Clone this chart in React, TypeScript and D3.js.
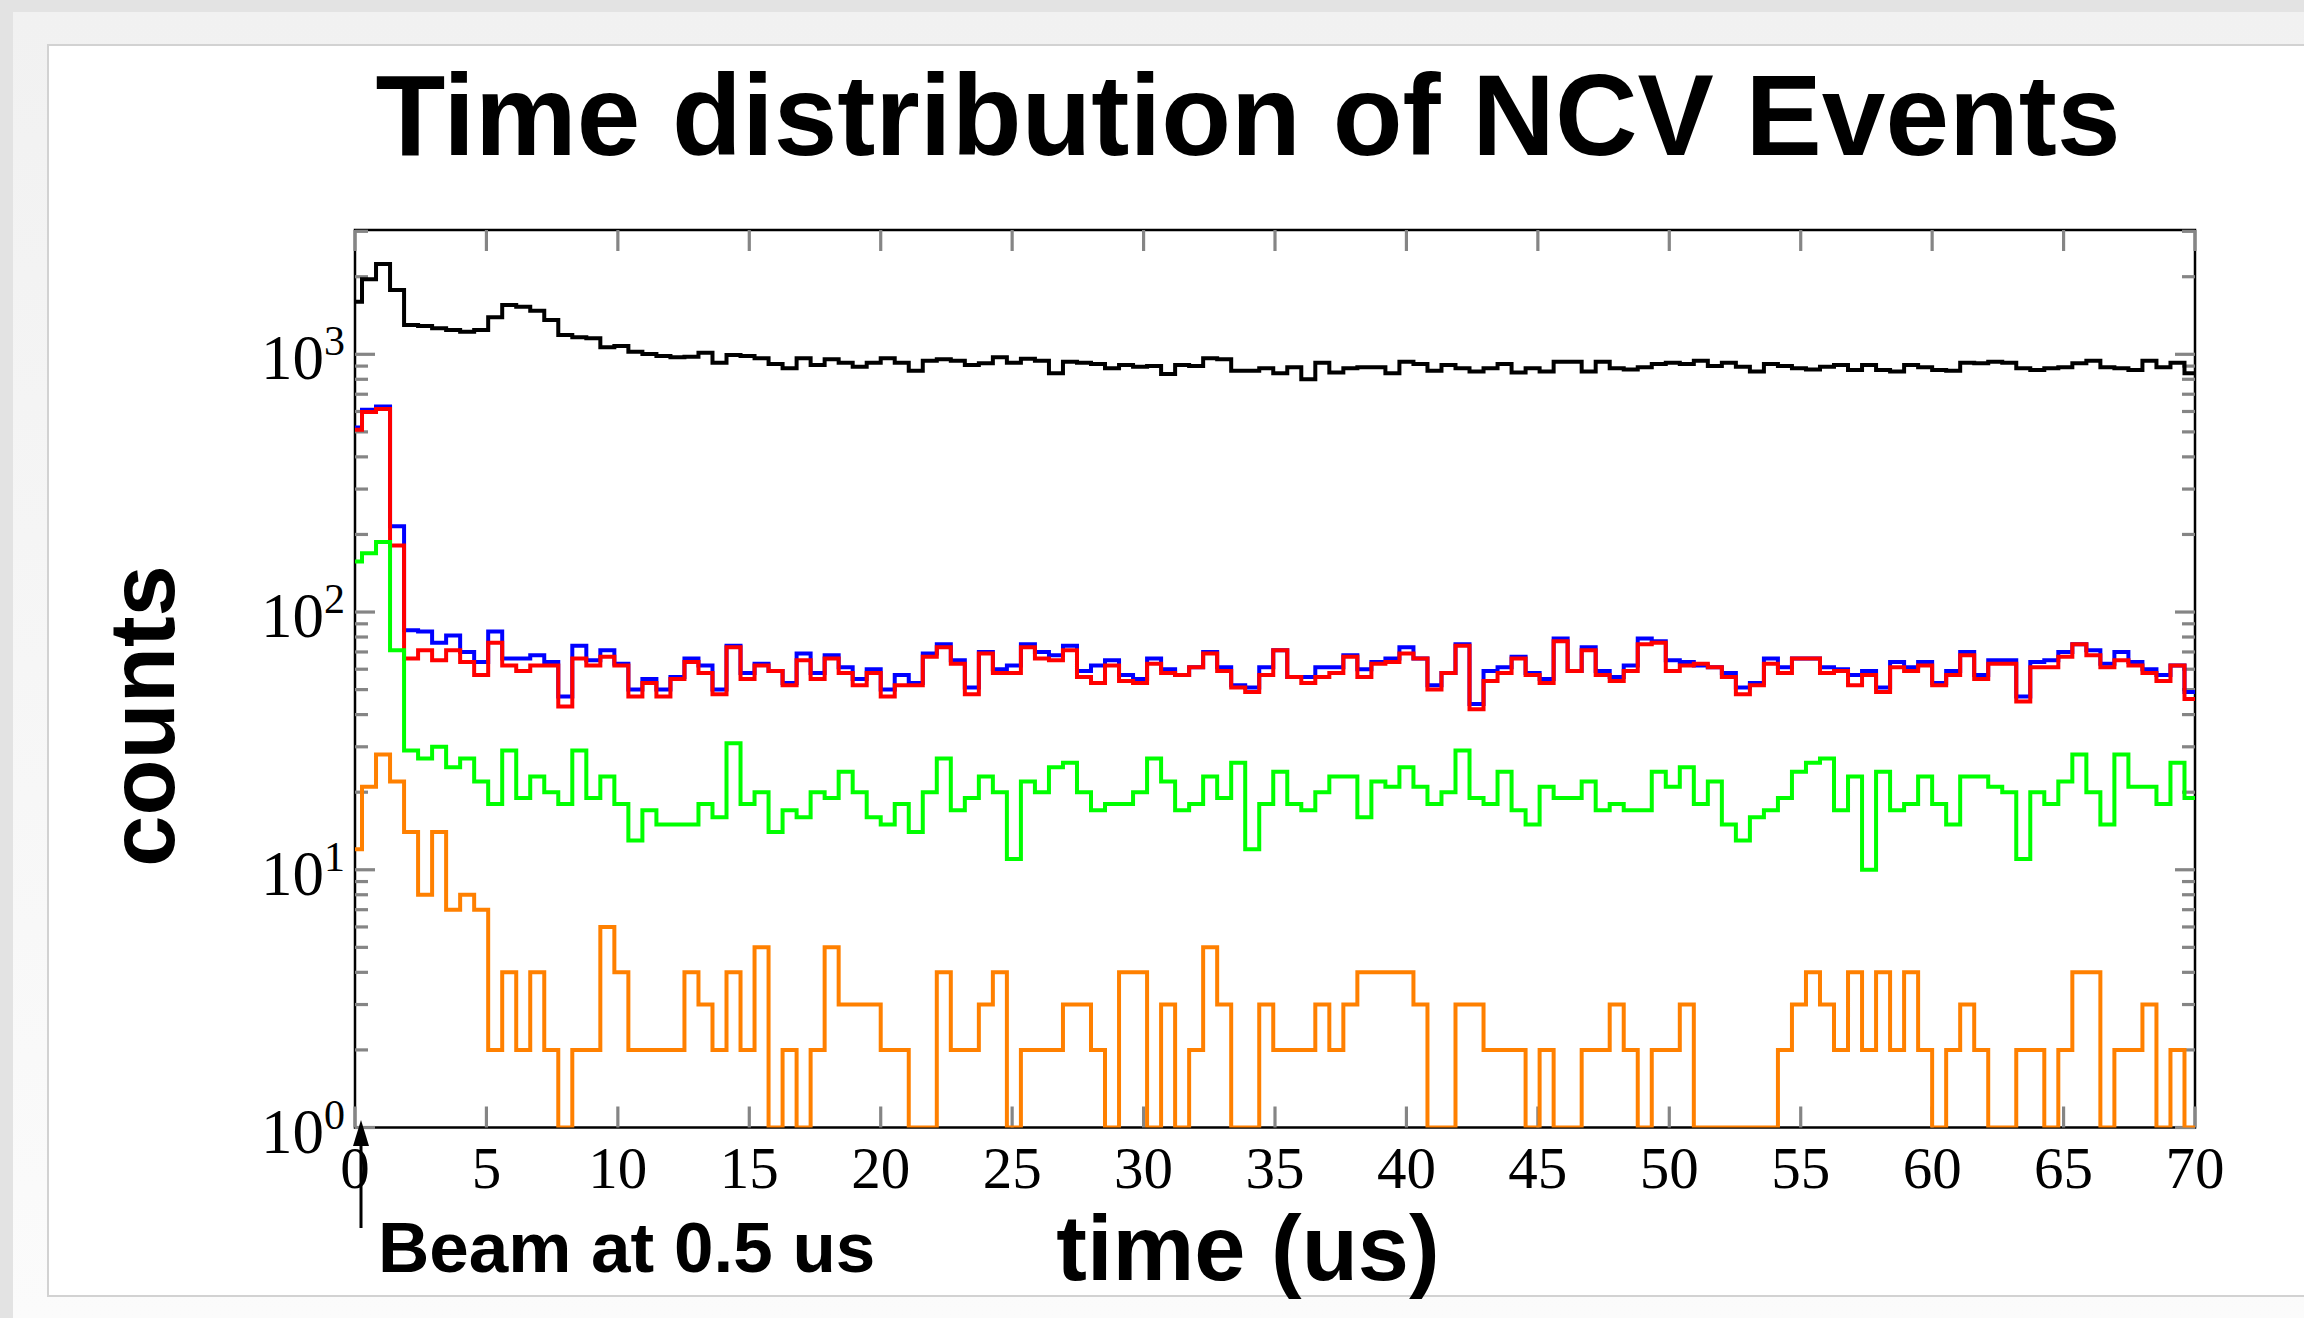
import React from "react";
import * as d3 from "d3";

// ---- data (counts per 0.5333 us bin, bin k centred at k * BIN_US) ----
const BIN_US = 8 / 15;
const X_MAX = 70;
const titleText = "Time distribution of NCV Events";
const xTickValues = [0, 5, 10, 15, 20, 25, 30, 35, 40, 45, 50, 55, 60, 65, 70];
const yDecades = [0, 1, 2, 3];

const allEvents = [
  1600, 1954, 2240, 1776, 1299, 1288, 1262, 1243, 1224, 1243,
  1392, 1553, 1530, 1476, 1359, 1188, 1164, 1154, 1064, 1077,
  1023, 1003, 985, 974, 979, 1014, 928, 994, 985, 965,
  917, 882, 965, 909, 956, 928, 895, 928, 965, 928,
  864, 944, 956, 944, 909, 923, 974, 928, 961, 944,
  844, 935, 928, 917, 882, 909, 895, 901, 839, 909,
  901, 965, 956, 864, 864, 882, 844, 890, 800, 928,
  850, 882, 890, 890, 844, 936, 917, 864, 909, 882,
  857, 882, 917, 850, 882, 857, 936, 936, 857, 936,
  882, 874, 890, 917, 928, 917, 944, 901, 928, 895,
  857, 917, 901, 882, 874, 895, 909, 869, 909, 869,
  857, 909, 890, 869, 864, 928, 923, 936, 928, 882,
  869, 882, 890, 923, 944, 890, 882, 869, 944, 890,
  928, 844,
];

const blueEvents = [
  520, 610, 628, 215, 85, 84, 76, 81, 70, 64,
  84, 66, 66, 68, 64, 47, 74, 65, 71, 63,
  50, 55, 50, 56, 66, 62, 50, 74, 58, 63,
  59, 53, 69, 58, 68, 61, 55, 60, 50, 57,
  53, 69, 75, 65, 51, 70, 60, 62, 75, 70,
  68, 74, 59, 62, 65, 57, 55, 66, 60, 57,
  61, 70, 61, 52, 51, 61, 71, 56, 56, 61,
  61, 68, 60, 64, 66, 73, 66, 52, 58, 75,
  44, 59, 61, 67, 58, 55, 79, 59, 73, 59,
  56, 62, 79, 77, 65, 64, 62, 61, 58, 51,
  53, 66, 61, 66, 66, 61, 60, 57, 59, 51,
  64, 61, 64, 53, 59, 70, 57, 65, 65, 47,
  64, 65, 70, 75, 71, 63, 70, 64, 60, 57,
  62, 49,
];

const redEvents = [
  510, 597, 613, 181, 66, 71, 65, 71, 64, 57,
  76, 62, 59, 62, 62, 43, 66, 62, 67, 62,
  47, 53, 47, 55, 64, 58, 48, 73, 55, 62,
  59, 52, 65, 55, 66, 58, 52, 58, 47, 52,
  52, 67, 73, 63, 48, 69, 58, 58, 73, 66,
  65, 71, 56, 53, 62, 54, 53, 63, 58, 57,
  61, 69, 59, 51, 49, 57, 71, 56, 53, 56,
  58, 67, 56, 63, 64, 69, 66, 50, 58, 74,
  42, 54, 58, 66, 57, 53, 77, 59, 71, 57,
  54, 59, 75, 76, 59, 62, 63, 61, 56, 48,
  52, 63, 58, 66, 66, 58, 59, 52, 57, 49,
  61, 59, 62, 52, 57, 68, 55, 63, 63, 45,
  61, 61, 67, 75, 68, 61, 65, 62, 58, 54,
  62, 46,
];

const greenEvents = [
  157, 169, 187, 71, 29, 27, 30, 25, 27, 22,
  18, 29, 19, 23, 20, 18, 29, 19, 23, 18,
  13, 17, 15, 15, 15, 18, 16, 31, 18, 20,
  14, 17, 16, 20, 19, 24, 20, 16, 15, 18,
  14, 20, 27, 17, 19, 23, 20, 11, 22, 20,
  25, 26, 20, 17, 18, 18, 20, 27, 22, 17,
  18, 23, 19, 26, 12, 18, 24, 18, 17, 20,
  23, 23, 16, 22, 21, 25, 21, 18, 20, 29,
  19, 18, 24, 17, 15, 21, 19, 19, 22, 17,
  18, 17, 17, 24, 21, 25, 18, 22, 15, 13,
  16, 17, 19, 24, 26, 27, 17, 23, 10, 24,
  17, 18, 23, 18, 15, 23, 23, 21, 20, 11,
  20, 18, 22, 28, 20, 15, 28, 21, 21, 18,
  26, 19,
];

const orangeEvents = [
  12, 21, 28, 22, 14, 8, 14, 7, 8, 7,
  2, 4, 2, 4, 2, 0, 2, 2, 6, 4,
  2, 2, 2, 2, 4, 3, 2, 4, 2, 5,
  0, 2, 0, 2, 5, 3, 3, 3, 2, 2,
  0, 0, 4, 2, 2, 3, 4, 0, 2, 2,
  2, 3, 3, 2, 0, 4, 4, 0, 3, 0,
  2, 5, 3, 0, 0, 3, 2, 2, 2, 3,
  2, 3, 4, 4, 4, 4, 3, 0, 0, 3,
  3, 2, 2, 2, 0, 2, 0, 0, 2, 2,
  3, 2, 0, 2, 2, 3, 0, 0, 0, 0,
  0, 0, 2, 3, 4, 3, 2, 4, 2, 4,
  2, 4, 2, 0, 2, 3, 2, 0, 0, 2,
  2, 0, 2, 4, 4, 0, 2, 2, 3, 0,
  2, 0,
];

const seriesList = [
  { name: "all", values: allEvents, color: "#000000" },
  { name: "blue", values: blueEvents, color: "#0000ff" },
  { name: "red", values: redEvents, color: "#ff0000" },
  { name: "green", values: greenEvents, color: "#00ff00" },
  { name: "orange", values: orangeEvents, color: "#ff8000" },
];

// ---- layout ----
const W = 2304;
const H = 1318;
const PL = 355, PR = 2195, PT = 230, PB = 1127.5;
const Y_MIN = 1, Y_MAX = 3036;

export default function App() {
  const x = d3.scaleLinear().domain([0, X_MAX]).range([PL, PR]);
  const y = d3.scaleLog().domain([Y_MIN, Y_MAX]).range([PB, PT]);

  const line = d3
    .line<[number, number]>()
    .x((d) => x(d[0]))
    .y((d) => y(d[1]));

  const histPath = (vals: number[]) => {
    const pts: [number, number][] = [];
    vals.forEach((v, k) => {
      const x0 = Math.max(0, (k - 0.5) * BIN_US);
      const x1 = Math.min(X_MAX, (k + 0.5) * BIN_US);
      const vv = Math.max(v, Y_MIN);
      pts.push([x0, vv], [x1, vv]);
    });
    return line(pts) || "";
  };

  const minorTicks: number[] = [];
  for (let d = 0; d <= 3; d++) {
    for (let m = 2; m <= 9; m++) {
      const v = m * Math.pow(10, d);
      if (v < Y_MAX) minorTicks.push(v);
    }
  }

  const tickColor = "#858585";
  const tickW = 3.2;
  const serif = "'Liberation Serif', 'DejaVu Serif', serif";
  const sans = "'Liberation Sans', Arial, Helvetica, sans-serif";

  const arrowX = 361;

  return (
    <svg
      width={W}
      height={H}
      viewBox={`0 0 ${W} ${H}`}
      style={{ position: "absolute", left: 0, top: 0, display: "block" }}
    >
      <defs>
        <clipPath id="plotClip">
          <rect x={PL} y={PT} width={PR - PL} height={PB - PT} />
        </clipPath>
        <linearGradient id="topShade" x1="0" y1="0" x2="0" y2="1">
          <stop offset="0" stopColor="#f1f1f1" />
          <stop offset="1" stopColor="#fbfbfb" />
        </linearGradient>
      </defs>

      {/* page background */}
      <rect x={0} y={0} width={W} height={H} fill="#e3e3e3" />
      <rect x={13} y={12} width={W - 13} height={H - 12} fill="url(#topShade)" />
      <rect
        x={48}
        y={45}
        width={W}
        height={1296 - 45}
        fill="#ffffff"
        stroke="#d2d2d2"
        strokeWidth={2}
      />

      {/* title */}
      <text
        x={1248}
        y={155}
        textAnchor="middle"
        fontFamily={sans}
        fontWeight="bold"
        fontSize={115}
        textLength={1745}
        lengthAdjust="spacingAndGlyphs"
        fill="#000"
      >
        {titleText}
      </text>

      {/* frame (under histograms) */}
      <rect
        x={PL}
        y={PT}
        width={PR - PL}
        height={PB - PT}
        fill="none"
        stroke="#000"
        strokeWidth={2.5}
      />

      {/* x ticks */}
      {xTickValues.map((t) => (
        <g key={"xt" + t}>
          <line x1={x(t)} x2={x(t)} y1={PB} y2={PB - 21} stroke={tickColor} strokeWidth={tickW} />
          <line x1={x(t)} x2={x(t)} y1={PT} y2={PT + 21} stroke={tickColor} strokeWidth={tickW} />
          <text
            x={x(t)}
            y={1188}
            textAnchor="middle"
            fontFamily={serif}
            fontSize={59}
            fill="#000"
          >
            {t}
          </text>
        </g>
      ))}

      {/* y ticks */}
      {yDecades.map((d) => {
        const v = Math.pow(10, d);
        const yy = y(v);
        return (
          <g key={"yt" + d}>
            <line x1={PL} x2={PL + 20} y1={yy} y2={yy} stroke={tickColor} strokeWidth={tickW} />
            <line x1={PR} x2={PR - 20} y1={yy} y2={yy} stroke={tickColor} strokeWidth={tickW} />
            <text
              x={345}
              y={yy + 25}
              textAnchor="end"
              fontFamily={serif}
              fontSize={63}
              fill="#000"
            >
              10
              <tspan fontSize={42} dy={-24}>
                {d}
              </tspan>
            </text>
          </g>
        );
      })}
      {minorTicks.map((v) => (
        <g key={"ym" + v}>
          <line x1={PL} x2={PL + 13} y1={y(v)} y2={y(v)} stroke={tickColor} strokeWidth={tickW} />
          <line x1={PR} x2={PR - 13} y1={y(v)} y2={y(v)} stroke={tickColor} strokeWidth={tickW} />
        </g>
      ))}

      {/* histograms */}
      <g clipPath="url(#plotClip)">
        {seriesList.map((s) => (
          <path
            key={s.name}
            d={histPath(s.values)}
            fill="none"
            stroke={s.color}
            strokeWidth={4}
            strokeLinejoin="miter"
            strokeLinecap="butt"
          />
        ))}
      </g>

      {/* axis titles */}
      <text
        x={1248}
        y={1280}
        textAnchor="middle"
        fontFamily={sans}
        fontWeight="bold"
        fontSize={92}
        fill="#000"
      >
        time (us)
      </text>
      <text
        transform={`translate(174, 716) rotate(-90)`}
        textAnchor="middle"
        fontFamily={sans}
        fontWeight="bold"
        fontSize={92}
        fill="#000"
      >
        counts
      </text>

      {/* beam annotation */}
      <line x1={arrowX} x2={arrowX} y1={1228} y2={1140} stroke="#000" strokeWidth={3} />
      <path
        d={`M${arrowX},${1120} L${arrowX - 8},${1146} L${arrowX + 8},${1146} Z`}
        fill="#000"
      />
      <text
        x={378}
        y={1272}
        fontFamily={sans}
        fontWeight="bold"
        fontSize={71}
        fill="#000"
      >
        Beam at 0.5 us
      </text>
    </svg>
  );
}
